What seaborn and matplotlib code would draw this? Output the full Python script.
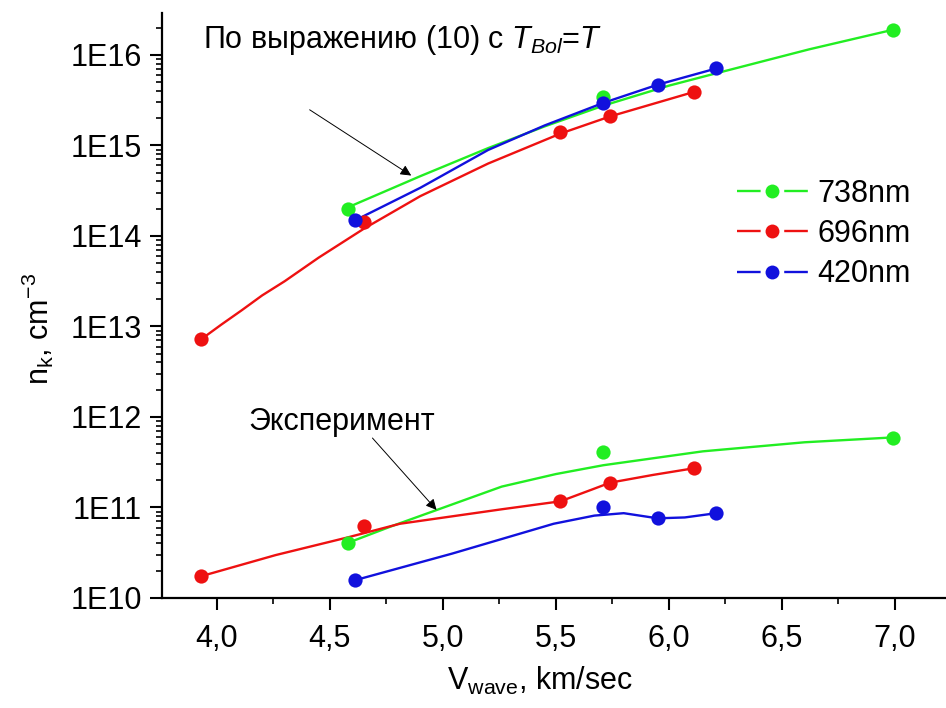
import numpy as np
import pandas as pd
import matplotlib
matplotlib.use("Agg")
import matplotlib.pyplot as plt
from matplotlib.lines import Line2D
from matplotlib.legend_handler import HandlerTuple
from matplotlib.ticker import FixedLocator, FuncFormatter, LogLocator, MultipleLocator
import seaborn as sns

# ---------------- data ----------------
labels = ["738nm", "696nm", "420nm"]
colors = ["#22ee22", "#ee1111", "#1111dd"]

# measured / calculated points
v_738 = [4.58, 5.71, 6.99]
theory_738 = [2.0e14, 3.4e15, 1.9e16]
exp_738 = [4.1e10, 4.1e11, 5.9e11]

v_696 = [3.93, 4.65, 5.52, 5.74, 6.11]
theory_696 = [7.2e12, 1.42e14, 1.39e15, 2.1e15, 3.9e15]
exp_696 = [1.74e10, 6.3e10, 1.18e11, 1.88e11, 2.7e11]

v_420 = [4.61, 5.71, 5.95, 6.21]
theory_420 = [1.48e14, 2.97e15, 4.67e15, 7.1e15]
exp_420 = [1.57e10, 1.0e11, 7.6e10, 8.6e10]

# smooth fitted curves
fit_theory_738_v = [4.58, 4.90, 5.20, 5.45, 5.71, 6.00, 6.20, 6.62, 6.99]
fit_theory_738_n = [2.07e14, 4.57e14, 9.33e14, 1.62e15, 2.75e15, 4.57e15, 6.17e15, 1.15e16, 1.89e16]

fit_theory_696_v = [3.93, 4.02, 4.11, 4.20, 4.30, 4.45, 4.65, 4.90, 5.20, 5.52, 5.74, 6.11]
fit_theory_696_n = [7.2e12, 1.05e13, 1.51e13, 2.2e13, 3.16e13, 5.75e13, 1.2e14, 2.75e14,
                    6.3e14, 1.35e15, 2.09e15, 3.89e15]

fit_theory_420_v = [4.61, 4.90, 5.20, 5.45, 5.71, 5.95, 6.21]
fit_theory_420_n = [1.48e14, 3.4e14, 8.9e14, 1.66e15, 2.95e15, 4.68e15, 7.08e15]

fit_exp_738_v = [4.58, 4.77, 4.97, 5.26, 5.50, 5.71, 6.15, 6.60, 6.99]
fit_exp_738_n = [4.07e10, 6.17e10, 9.33e10, 1.7e11, 2.34e11, 2.93e11, 4.17e11, 5.25e11, 5.94e11]

fit_exp_696_v = [3.93, 4.26, 4.58, 4.81, 5.26, 5.52, 5.66, 5.74, 5.93, 6.11]
fit_exp_696_n = [1.74e10, 2.98e10, 4.68e10, 6.61e10, 9.55e10, 1.17e11, 1.58e11, 1.88e11, 2.29e11, 2.71e11]

fit_exp_420_v = [4.61, 5.04, 5.49, 5.67, 5.80, 5.95, 6.07, 6.21]
fit_exp_420_n = [1.57e10, 3.09e10, 6.61e10, 8.13e10, 8.65e10, 7.59e10, 7.76e10, 8.65e10]

x_ticks = [4.0, 4.5, 5.0, 5.5, 6.0, 6.5, 7.0]
y_ticks = [1e10, 1e11, 1e12, 1e13, 1e14, 1e15, 1e16]

title_text = "По выражению (10) с $\\mathit{T}_{\\mathit{Bol}}$=$\\mathit{T}$"
exp_text = "Эксперимент"

# ---------------- style ----------------
sns.set_theme(style="ticks")
plt.rcParams["font.family"] = ["Liberation Sans", "DejaVu Sans"]
plt.rcParams["mathtext.fontset"] = "custom"
plt.rcParams["mathtext.rm"] = "Liberation Sans"
plt.rcParams["mathtext.it"] = "Liberation Sans:italic"
plt.rcParams["mathtext.bf"] = "Liberation Sans:bold"
plt.rcParams["lines.scale_dashes"] = False
plt.rcParams["text.color"] = "black"
plt.rcParams["axes.labelcolor"] = "black"

FS = 22
W, H = 946, 708
fig = plt.figure(figsize=(W / 100, H / 100), dpi=100)
ax = fig.add_axes([162 / W, 1 - 598 / H, (946 - 162) / W, (598 - 13) / H])

fits = [
    (fit_theory_738_v, fit_theory_738_n, 0), (fit_exp_738_v, fit_exp_738_n, 0),
    (fit_theory_696_v, fit_theory_696_n, 1), (fit_exp_696_v, fit_exp_696_n, 1),
    (fit_theory_420_v, fit_theory_420_n, 2), (fit_exp_420_v, fit_exp_420_n, 2),
]
for xv, yv, ci in fits:
    df = pd.DataFrame({"v": xv, "n": yv})
    sns.lineplot(data=df, x="v", y="n", ax=ax, color=colors[ci], lw=1.7,
                 sort=False, estimator=None, legend=False)

pts = [
    (v_738, theory_738, 0), (v_738, exp_738, 0),
    (v_696, theory_696, 1), (v_696, exp_696, 1),
    (v_420, theory_420, 2), (v_420, exp_420, 2),
]
for xv, yv, ci in pts:
    df = pd.DataFrame({"v": xv, "n": yv})
    sns.scatterplot(data=df, x="v", y="n", ax=ax, color=colors[ci], s=105,
                    linewidth=0, legend=False, zorder=3)

ax.set_yscale("log")
ax.set_xlim(3.757, 7.226)
ax.set_ylim(1e10, 2.9e16)

ax.xaxis.set_major_locator(FixedLocator(x_ticks))
ax.xaxis.set_minor_locator(MultipleLocator(0.25))
ax.xaxis.set_major_formatter(FuncFormatter(lambda v, p: f"{v:.1f}".replace(".", ",")))
ax.yaxis.set_major_locator(FixedLocator(y_ticks))
ax.yaxis.set_minor_locator(LogLocator(base=10, subs=np.arange(2, 10)))
ax.yaxis.set_major_formatter(FuncFormatter(lambda v, p: f"1E{int(round(np.log10(v)))}"))
ax.yaxis.set_minor_formatter(FuncFormatter(lambda v, p: ""))

for s in ["top", "right"]:
    ax.spines[s].set_visible(False)
for s in ["left", "bottom"]:
    ax.spines[s].set_linewidth(1.6)
    ax.spines[s].set_color("black")

ax.tick_params(which="major", direction="out", length=8.5, width=1.5, labelsize=FS,
               colors="black", pad=6)
ax.tick_params(which="minor", direction="out", length=4.5, width=1.2, colors="black")
ax.tick_params(axis="x", which="major", pad=10)

ax.set_xlabel("V$_\\mathregular{wave}$, km/sec", fontsize=FS, color="black")
ax.set_ylabel("n$_\\mathregular{k}$, cm$^\\mathregular{-3}$", fontsize=FS, color="black")
ax.xaxis.set_label_coords(0.482, -0.115)
ax.yaxis.set_label_coords(-0.135, 0.46)
ax.grid(False)

# annotations
ax.text(0.052, 0.954, title_text, transform=ax.transAxes, fontsize=FS,
        ha="left", va="center", color="black")
ax.annotate("", xy=(4.87, 10 ** 14.65), xytext=(4.40, 10 ** 15.41),
            arrowprops=dict(arrowstyle="-|>", color="black", lw=0.7, mutation_scale=16))
ax.text(0.110, 0.301, exp_text, transform=ax.transAxes, fontsize=FS,
        ha="left", va="center", color="black")
ax.annotate("", xy=(4.98, 10 ** 10.95), xytext=(4.68, 10 ** 11.79),
            arrowprops=dict(arrowstyle="-|>", color="black", lw=0.7, mutation_scale=16))

# legend: line - gap - dot - gap - line
handles = []
for c in colors:
    seg = Line2D([0], [0], color=c, lw=1.7, linestyle=(0, (17.0, 17.0)))
    dot = Line2D([0], [0], color=c, lw=0, marker="o", markersize=10,
                 markeredgewidth=0)
    handles.append((seg, dot))
leg = ax.legend(handles, labels, loc="upper left", bbox_to_anchor=(0.733, 0.717),
                frameon=False, fontsize=FS, handlelength=2.33, handletextpad=0.3,
                labelspacing=0.34, borderpad=0, borderaxespad=0,
                handler_map={tuple: HandlerTuple(ndivide=1)})
for t in leg.get_texts():
    t.set_color("black")

fig.savefig("out.png", dpi=100)
